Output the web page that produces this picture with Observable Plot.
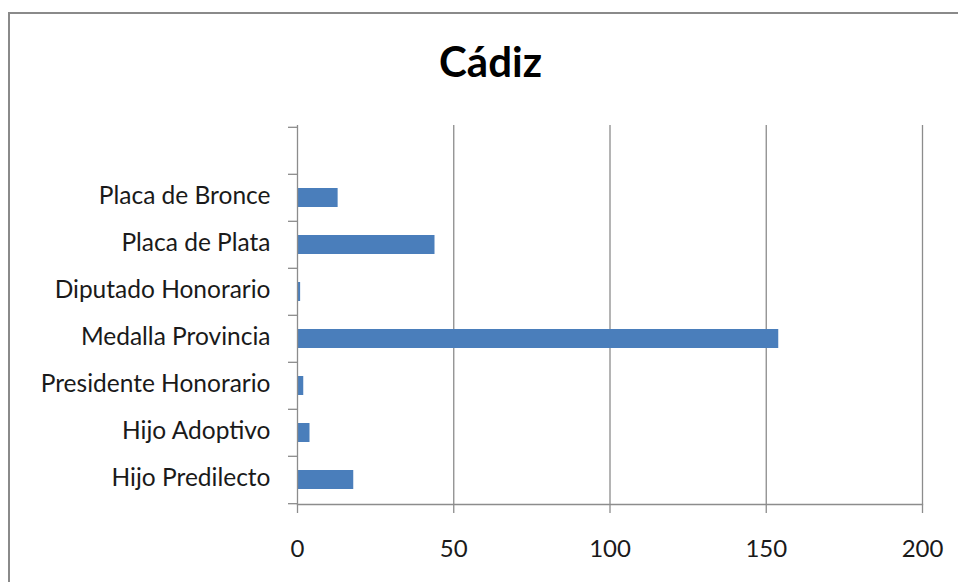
<!DOCTYPE html>
<html>
<head>
<meta charset="utf-8">
<script src="https://cdn.jsdelivr.net/npm/d3@7"></script>
<script src="https://cdn.jsdelivr.net/npm/@observablehq/plot@0.6"></script>
<style>
  html, body { margin: 0; padding: 0; background: #fff; }
  #wrap { position: relative; width: 958px; height: 582px; overflow: hidden; }
  #border { position: absolute; left: 8px; top: 12px; width: 1000px; height: 700px; border: 2px solid #8a8a8a; box-sizing: border-box; pointer-events: none; }
  svg { font-family: Lato, "Open Sans", sans-serif; }
</style>
</head>
<body>
<div id="wrap"><div id="border"></div></div>
<script>
const title = "Cádiz";
// top-to-bottom order; first slot is empty in the original chart
const categories = [" ", "Placa de Bronce", "Placa de Plata", "Diputado Honorario", "Medalla Provincia", "Presidente Honorario", "Hijo Adoptivo", "Hijo Predilecto"];
const values = [null, 13, 44, 1, 154, 2, 4, 18];
const xTicks = [0, 50, 100, 150, 200];
const gridTicks = [50, 100, 150, 200];

const data = categories.map((c, i) => ({category: c, value: values[i]})).filter(d => d.value != null);

const W = 958, H = 582, mt = 125, mb = 78, ml = 297, mr = 36;
const step = (H - mt - mb) / categories.length;
const gray = "#8c8c8c";

const chart = Plot.plot({
  width: W, height: H,
  marginTop: mt, marginBottom: mb, marginLeft: ml, marginRight: mr,
  style: {fontFamily: "Lato, 'Open Sans', sans-serif", background: "transparent"},
  x: {domain: [0, 200]},
  y: {domain: categories, padding: 0},
  marks: [
    Plot.ruleX(gridTicks, {stroke: gray, strokeWidth: 1.3}),
    Plot.barX(data, {x: "value", y: "category", fill: "#4a7ebb", insetTop: 14, insetBottom: 14}),
    Plot.ruleX([0], {stroke: gray, strokeWidth: 1.3}),
    Plot.frame({anchor: "bottom", stroke: gray, strokeWidth: 1.3}),
    Plot.axisX({ticks: xTicks, tickSize: 9, tickPadding: 26, fontSize: 24, stroke: gray, strokeWidth: 1.3, color: "#1a1a1a", tickFormat: d => String(d), label: null}),
    Plot.axisY({ticks: categories, tickSize: 9, dy: -step / 2, text: null, stroke: gray, strokeWidth: 1.3, label: null}),
    Plot.axisY({ticks: [categories[categories.length - 1]], tickSize: 9, dy: step / 2, text: null, stroke: gray, strokeWidth: 1.3, label: null}),
    Plot.axisY({ticks: categories, tickSize: 0, tickPadding: 27, fontSize: 24.5, dy: -2, color: "#1a1a1a", label: null}),
    Plot.text([title], {frameAnchor: "top", dx: 490 - (ml + (W - ml - mr) / 2), dy: -62, fontSize: 42, fontWeight: "bold", fill: "#000", lineAnchor: "middle"})
  ]
});
document.getElementById("wrap").prepend(chart);
</script>
</body>
</html>
